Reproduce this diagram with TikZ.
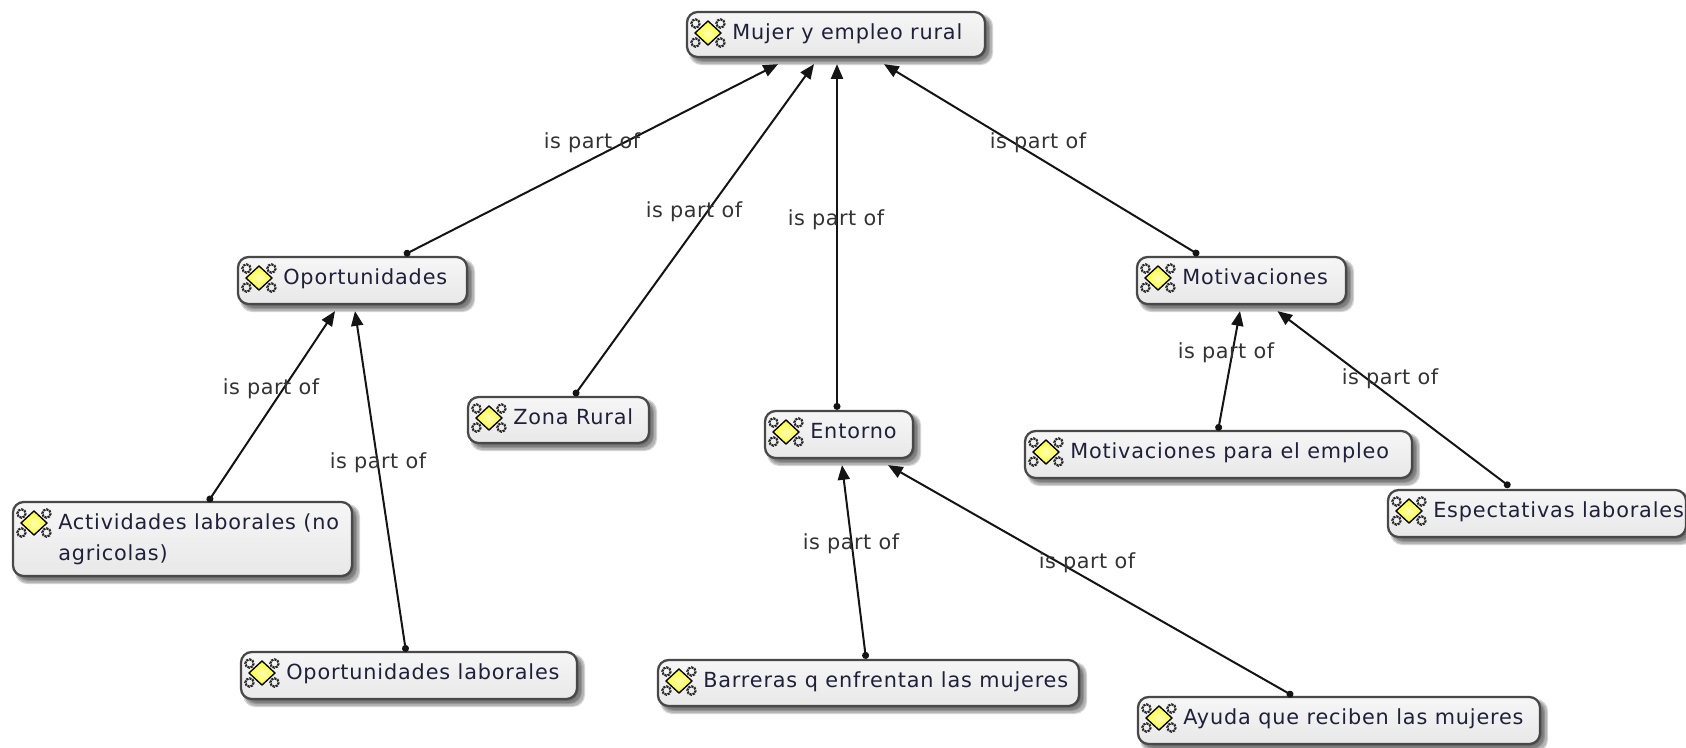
\documentclass[tikz,border=0pt]{standalone}
\usepackage{fontspec}
\setmainfont{DejaVu Sans}
\newfontfamily\boxfont{DejaVu Sans}[LetterSpace=4]
\newfontfamily\labelfont{DejaVu Sans}[LetterSpace=2.5]
\usetikzlibrary{arrows.meta,calc}
\definecolor{inktext}{HTML}{20203A}
\definecolor{linetext}{HTML}{333333}
\definecolor{edgeline}{HTML}{484848}
\definecolor{boxtop}{HTML}{F6F6F6}
\definecolor{boxbot}{HTML}{E8E8E8}
\definecolor{diam}{HTML}{FFFF30}
\tikzset{
  x=0.75pt,y=-0.75pt,
  conceptbox/.style={draw=edgeline,line width=1.7pt,rounded corners=8pt,top color=boxtop,bottom color=boxbot,inner sep=0pt},
  boxshade/.style={fill=black,rounded corners=9pt,opacity=0.16},
  boxtext/.style={anchor=base west,font=\boxfont\fontsize{15.6}{21.75}\selectfont,text=inktext,inner sep=0pt},
  linklabel/.style={font=\labelfont\fontsize{15.6}{18}\selectfont,text=linetext,inner sep=0pt},
  linkline/.style={line width=1.5pt,draw=black!92,{Circle[length=5.2pt]}-{Triangle[length=11pt,width=9pt]}},
}
% name, x0, y0, x1, y1, text
\newcommand{\conceptnode}[6]{%
  \foreach \sh/\gr in {5/3,5/2,4/1,4/0,3/-1}{%
    \fill[boxshade] (#2+\sh-\gr,#3+\sh-\gr) rectangle (#4+\sh+\gr,#5+\sh+\gr);}
  \node[conceptbox,minimum width={(#4-#2)*0.75pt},minimum height={(#5-#3)*0.75pt}] (#1) at ({(#2+#4)/2},{(#3+#5)/2}) {};
  \begin{scope}[shift={(#2+21,#3+21)}]
    \foreach \ax/\ay in {-12.5/-9.5,12.5/-9.5,-12.5/9.5,12.5/9.5}{%
      \draw[black!85,line width=1.6pt,dash pattern=on 1.6pt off 0.8pt] (\ax,\ay) circle[radius=4.2];}
    \draw[black,line width=1pt,inner color=diam!35,outer color=diam] (-13,0) -- (0,-12) -- (13,0) -- (0,12) -- cycle;
  \end{scope}
  \node[boxtext] at (#2+45,#3+27) {#6};
}
% from, dx, dy, to, dx, dy, label x, label y
\newcommand{\partlink}[8]{%
  \draw[linkline] ([xshift=#2*0.75pt,yshift=#3*0.75pt]#1.north) -- ([xshift=#5*0.75pt,yshift=-#6*0.75pt]#4.south);
  \node[linklabel] at (#7,#8+2) {is part of};
}
\begin{document}
\begin{tikzpicture}
\useasboundingbox (0,0) rectangle (1686,747);
\conceptnode{mujer}{687}{12}{985}{57}{Mujer y empleo rural}
\conceptnode{oport}{238}{257}{467}{304}{Oportunidades}
\conceptnode{zona}{468}{397}{649}{443}{Zona Rural}
\conceptnode{entorno}{765}{411}{913}{458}{Entorno}
\conceptnode{motiv}{1137}{257}{1346}{304}{Motivaciones}
\conceptnode{mpe}{1025}{431}{1412}{478}{Motivaciones para el empleo}
\conceptnode{espec}{1388}{490}{1686}{537}{Espectativas laborales}
\conceptnode{activ}{13}{502}{352}{576}{\vtop{\hbox{Actividades laborales (no}\vskip 2pt\hbox{agricolas)}}}
\conceptnode{oplab}{241}{652}{577}{699}{Oportunidades laborales}
\conceptnode{barr}{658}{660}{1079}{706}{Barreras q enfrentan las mujeres}
\conceptnode{ayuda}{1138}{697}{1540}{744}{Ayuda que reciben las mujeres}
\partlink{oport}{51.5}{1}{mujer}{-58}{6}{592}{141}
\partlink{zona}{15.5}{0}{mujer}{-22}{6}{694}{210}
\partlink{entorno}{-2}{0}{mujer}{1}{6}{836}{218}
\partlink{motiv}{-42.5}{1}{mujer}{48}{6}{1038}{141}
\partlink{activ}{25.5}{-1}{oport}{-17.5}{6}{271}{387}
\partlink{oplab}{-3}{-1}{oport}{2.5}{6}{378}{461}
\partlink{mpe}{-0.5}{-1}{motiv}{-1.5}{6}{1226}{351}
\partlink{espec}{-27}{2}{motiv}{36}{6}{1390}{377}
\partlink{barr}{-2.5}{0}{entorno}{3}{6}{851}{542}
\partlink{ayuda}{-46}{0}{entorno}{49}{6}{1087}{561}
\end{tikzpicture}
\end{document}
